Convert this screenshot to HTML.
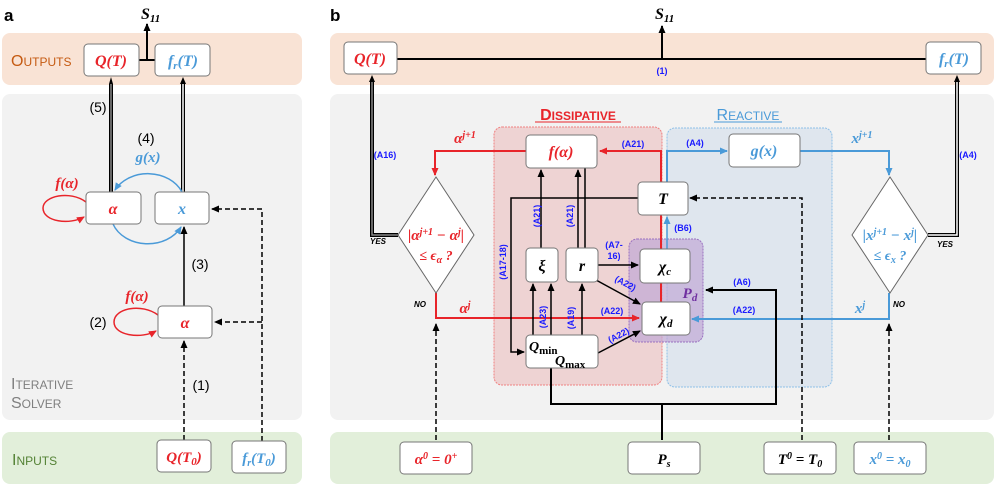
<!DOCTYPE html>
<html><head><meta charset="utf-8"><style>
html,body{margin:0;padding:0;background:#fff}
svg{display:block}
.m{font-family:"Liberation Serif",serif;font-style:italic;font-weight:bold}
.l{font-family:"Liberation Sans",sans-serif;font-weight:bold;font-size:9px;fill:#1a1aff}
.n{font-family:"Liberation Sans",sans-serif;font-size:14px;fill:#000}
.bx{fill:#fff;stroke:#777;stroke-width:1}
.sc{font-family:"Liberation Sans",sans-serif;font-size:16px}
.sc tspan{font-size:12px}
</style></head><body>
<svg width="996" height="494" viewBox="0 0 996 494" xmlns="http://www.w3.org/2000/svg">
<defs>
<marker id="ak" markerWidth="8" markerHeight="8" refX="7" refY="4" orient="auto" markerUnits="userSpaceOnUse"><path d="M0,0.5 L8,4 L0,7.5z" fill="#000"/></marker>
<marker id="ar" markerWidth="8" markerHeight="8" refX="7" refY="4" orient="auto" markerUnits="userSpaceOnUse"><path d="M0,0.5 L8,4 L0,7.5z" fill="#e8242a"/></marker>
<marker id="ab" markerWidth="8" markerHeight="8" refX="7" refY="4" orient="auto" markerUnits="userSpaceOnUse"><path d="M0,0.5 L8,4 L0,7.5z" fill="#4a9ad8"/></marker>
</defs>

<!-- ===== PANEL A ===== -->
<text x="4" y="21" font-family="Liberation Sans" font-weight="bold" font-size="17">a</text>
<rect x="2" y="33" width="300" height="52" rx="8" fill="#f9e3d5"/>
<rect x="2" y="94" width="300" height="326" rx="8" fill="#f2f2f2"/>
<rect x="2" y="432" width="300" height="52" rx="8" fill="#e2efda"/>
<text x="11" y="66" class="sc" fill="#c55a11">O<tspan>UTPUTS</tspan></text>
<text x="11" y="389" class="sc" fill="#7f7f7f">I<tspan>TERATIVE</tspan></text>
<text x="11" y="408" class="sc" fill="#7f7f7f">S<tspan>OLVER</tspan></text>
<text x="12" y="465" class="sc" fill="#548235">I<tspan>NPUTS</tspan></text>

<text x="141" y="19" class="m" font-size="16">S<tspan font-size="11" dy="3">11</tspan></text>
<line x1="147" y1="60" x2="147" y2="24" stroke="#000" stroke-width="2" marker-end="url(#ak)"/>
<line x1="139" y1="60" x2="155" y2="60" stroke="#000" stroke-width="2"/>

<line x1="111" y1="192" x2="111" y2="84" stroke="#000" stroke-width="4"/>
<line x1="111" y1="192" x2="111" y2="84" stroke="#888" stroke-width="1.5"/>
<path d="M109,84 L111,77 L113,84z" fill="#000"/>
<line x1="183" y1="192" x2="183" y2="84" stroke="#000" stroke-width="4"/>
<line x1="183" y1="192" x2="183" y2="84" stroke="#fff" stroke-width="1.5"/>
<path d="M180,84 L183,77 L186,84z" fill="#000"/>

<rect x="84" y="44" width="55" height="32" rx="4" class="bx"/>
<text x="111" y="66" class="m" font-size="16" fill="#e8242a" text-anchor="middle">Q(T)</text>
<rect x="155" y="44" width="55" height="32" rx="4" class="bx"/>
<text x="183" y="66" class="m" font-size="16" fill="#4a9ad8" text-anchor="middle">f<tspan font-size="11" dy="3">r</tspan><tspan dy="-3">(T)</tspan></text>

<text x="98" y="112" class="n" text-anchor="middle">(5)</text>
<text x="146" y="143" class="n" text-anchor="middle">(4)</text>
<text x="148" y="162" class="m" font-size="15" fill="#4a9ad8" text-anchor="middle">g(x)</text>

<path d="M182,192 A37,30 0 0 0 115,190" fill="none" stroke="#4a9ad8" stroke-width="1.5" marker-end="url(#ab)"/>
<path d="M113,224 A37,30 0 0 0 181,227" fill="none" stroke="#4a9ad8" stroke-width="1.5" marker-end="url(#ab)"/>
<text x="67" y="188" class="m" font-size="15" fill="#e8242a" text-anchor="middle">f(α)</text>
<path d="M86,202 C70,190 43,196 43,208 C43,222 70,225 84,217" fill="none" stroke="#e8242a" stroke-width="1.5" marker-end="url(#ar)"/>

<rect x="86" y="192" width="55" height="32" rx="4" class="bx"/>
<text x="113" y="214" class="m" font-size="16" fill="#e8242a" text-anchor="middle">α</text>
<rect x="155" y="192" width="54" height="32" rx="4" class="bx"/>
<text x="182" y="214" class="m" font-size="16" fill="#4a9ad8" text-anchor="middle">x</text>

<path d="M262,441 L262,209 L212,209" fill="none" stroke="#000" stroke-width="1.5" stroke-dasharray="5,3" marker-end="url(#ak)"/>
<path d="M262,322 L215,322" fill="none" stroke="#000" stroke-width="1.5" stroke-dasharray="5,3" marker-end="url(#ak)"/>
<path d="M184,440 L184,341" fill="none" stroke="#000" stroke-width="1.5" stroke-dasharray="5,3" marker-end="url(#ak)"/>
<line x1="184" y1="306" x2="184" y2="227" stroke="#000" stroke-width="1.5" marker-end="url(#ak)"/>
<text x="200" y="269" class="n" text-anchor="middle">(3)</text>
<text x="201" y="390" class="n" text-anchor="middle">(1)</text>
<text x="98" y="327" class="n" text-anchor="middle">(2)</text>
<text x="137" y="301" class="m" font-size="15" fill="#e8242a" text-anchor="middle">f(α)</text>
<path d="M158,315 C142,303 114,308 114,322 C114,336 142,339 156,331" fill="none" stroke="#e8242a" stroke-width="1.5" marker-end="url(#ar)"/>
<rect x="158" y="306" width="54" height="32" rx="4" class="bx"/>
<text x="185" y="328" class="m" font-size="16" fill="#e8242a" text-anchor="middle">α</text>

<rect x="157" y="440" width="54" height="32" rx="4" class="bx"/>
<text x="184" y="462" class="m" font-size="15" fill="#e8242a" text-anchor="middle">Q(T<tspan font-size="11" dy="3">0</tspan><tspan dy="-3">)</tspan></text>
<rect x="232" y="441" width="54" height="32" rx="4" class="bx"/>
<text x="259" y="463" class="m" font-size="15" fill="#4a9ad8" text-anchor="middle">f<tspan font-size="10" dy="3">r</tspan><tspan dy="-3">(T</tspan><tspan font-size="11" dy="3">0</tspan><tspan dy="-3">)</tspan></text>

<!-- ===== PANEL B ===== -->
<text x="330" y="21" font-family="Liberation Sans" font-weight="bold" font-size="17">b</text>
<rect x="330" y="33" width="664" height="52" rx="8" fill="#f9e3d5"/>
<rect x="330" y="94" width="664" height="326" rx="8" fill="#f2f2f2"/>
<rect x="330" y="432" width="664" height="52" rx="8" fill="#e2efda"/>

<text x="655" y="19" class="m" font-size="16">S<tspan font-size="11" dy="3">11</tspan></text>
<line x1="662" y1="59" x2="662" y2="26" stroke="#000" stroke-width="2" marker-end="url(#ak)"/>
<line x1="397" y1="59" x2="926" y2="59" stroke="#000" stroke-width="2"/>
<text x="662" y="74" class="l" text-anchor="middle">(1)</text>

<rect x="494" y="127" width="168" height="258" rx="8" fill="#eed3d3" stroke="#f08080" stroke-dasharray="2,1" stroke-width="1"/>
<rect x="667" y="128" width="165" height="259" rx="8" fill="#dfe6ee" stroke="#8ec0e8" stroke-dasharray="2,1" stroke-width="1"/>
<text x="578" y="120" class="sc" fill="#e8242a" text-anchor="middle" font-weight="bold">D<tspan>ISSIPATIVE</tspan></text>
<line x1="535" y1="122" x2="621" y2="122" stroke="#e8242a" stroke-width="1"/>
<text x="748" y="120" class="sc" fill="#4a9ad8" text-anchor="middle">R<tspan>EACTIVE</tspan></text>
<line x1="714" y1="122" x2="782" y2="122" stroke="#4a9ad8" stroke-width="1"/>

<path d="M398,235 L372,235 L372,82" fill="none" stroke="#000" stroke-width="4"/>
<path d="M398,235 L372,235 L372,82" fill="none" stroke="#888" stroke-width="1.5"/>
<path d="M369,82 L372,75 L375,82z" fill="#000"/>
<path d="M928,235 L957,235 L957,82" fill="none" stroke="#000" stroke-width="4"/>
<path d="M928,235 L957,235 L957,82" fill="none" stroke="#fff" stroke-width="1.5"/>
<path d="M954,82 L957,75 L960,82z" fill="#000"/>
<text x="385" y="158" class="l" text-anchor="middle">(A16)</text>
<text x="968" y="158" class="l" text-anchor="middle">(A4)</text>
<text x="370" y="244" font-family="Liberation Sans" font-style="italic" font-weight="bold" font-size="8">YES</text>
<text x="937" y="247" font-family="Liberation Sans" font-style="italic" font-weight="bold" font-size="8">YES</text>
<text x="414" y="307" font-family="Liberation Sans" font-style="italic" font-weight="bold" font-size="8">NO</text>
<text x="893" y="307" font-family="Liberation Sans" font-style="italic" font-weight="bold" font-size="8">NO</text>

<rect x="344" y="42" width="53" height="32" rx="4" class="bx"/>
<text x="370" y="64" class="m" font-size="16" fill="#e8242a" text-anchor="middle">Q(T)</text>
<rect x="926" y="42" width="55" height="32" rx="4" class="bx"/>
<text x="954" y="64" class="m" font-size="16" fill="#4a9ad8" text-anchor="middle">f<tspan font-size="11" dy="3">r</tspan><tspan dy="-3">(T)</tspan></text>

<rect x="629" y="239" width="74" height="103" rx="8" fill="#c0a8d6" fill-opacity="0.7" stroke="#9a70c0" stroke-dasharray="2,1"/>

<path d="M661,302 L661,151 L600,151" fill="none" stroke="#e8242a" stroke-width="2" marker-end="url(#ar)"/>
<text x="633" y="147" class="l" text-anchor="middle">(A21)</text>
<path d="M526,151 L435,151 L435,175" fill="none" stroke="#e8242a" stroke-width="2" marker-end="url(#ar)"/>
<text x="465" y="143" class="m" font-size="15" fill="#e8242a" text-anchor="middle">α<tspan font-size="10" dy="-5">j+1</tspan></text>
<path d="M436,293 L436,318 L639,318" fill="none" stroke="#e8242a" stroke-width="2" marker-end="url(#ar)"/>
<text x="465" y="313" class="m" font-size="15" fill="#e8242a" text-anchor="middle">α<tspan font-size="10" dy="-5">j</tspan></text>
<text x="612" y="314" class="l" text-anchor="middle">(A22)</text>
<path d="M436,440 L436,324" fill="none" stroke="#000" stroke-width="1.5" stroke-dasharray="5,3" marker-end="url(#ak)"/>

<path d="M667,182 L667,151 L727,151" fill="none" stroke="#4a9ad8" stroke-width="2" marker-end="url(#ab)"/>
<text x="695" y="146" class="l" text-anchor="middle">(A4)</text>
<path d="M667,249 L667,217" fill="none" stroke="#4a9ad8" stroke-width="1.5" marker-end="url(#ab)"/>
<text x="683" y="231" class="l" text-anchor="middle">(B6)</text>
<path d="M800,151 L889,151 L889,175" fill="none" stroke="#4a9ad8" stroke-width="2" marker-end="url(#ab)"/>
<text x="862" y="143" class="m" font-size="15" fill="#4a9ad8" text-anchor="middle">x<tspan font-size="10" dy="-5">j+1</tspan></text>
<path d="M889,293 L889,319 L692,319" fill="none" stroke="#4a9ad8" stroke-width="2" marker-end="url(#ab)"/>
<text x="860" y="313" class="m" font-size="15" fill="#4a9ad8" text-anchor="middle">x<tspan font-size="10" dy="-5">j</tspan></text>
<text x="744" y="313" class="l" text-anchor="middle">(A22)</text>
<path d="M889,440 L889,324" fill="none" stroke="#000" stroke-width="1.5" stroke-dasharray="5,3" marker-end="url(#ak)"/>

<path d="M802,440 L802,198 L690,198" fill="none" stroke="#000" stroke-width="1.5" stroke-dasharray="5,3" marker-end="url(#ak)"/>

<path d="M662,440 L662,404" fill="none" stroke="#000" stroke-width="2"/>
<path d="M551,368 L551,404 L776,404 L776,290 L706,290" fill="none" stroke="#000" stroke-width="2" marker-end="url(#ak)"/>
<text x="742" y="285" class="l" text-anchor="middle">(A6)</text>

<path d="M638,198 L511,198 L511,352 L524,352" fill="none" stroke="#000" stroke-width="1.5" marker-end="url(#ak)"/>
<text transform="translate(506,262) rotate(-90)" class="l" text-anchor="middle">(A17-18)</text>

<line x1="541" y1="248" x2="541" y2="170" stroke="#000" stroke-width="1.5" marker-end="url(#ak)"/>
<text transform="translate(540,216) rotate(-90)" class="l" text-anchor="middle">(A21)</text>
<line x1="578" y1="248" x2="578" y2="170" stroke="#000" stroke-width="1.5" marker-end="url(#ak)"/>
<line x1="585" y1="248" x2="585" y2="168" stroke="#000" stroke-width="1.5"/>
<text transform="translate(573,216) rotate(-90)" class="l" text-anchor="middle">(A21)</text>
<line x1="533" y1="335" x2="533" y2="284" stroke="#000" stroke-width="1.5" marker-end="url(#ak)"/>
<line x1="551" y1="335" x2="551" y2="284" stroke="#000" stroke-width="1.5" marker-end="url(#ak)"/>
<text transform="translate(546,317) rotate(-90)" class="l" text-anchor="middle">(A23)</text>
<line x1="582" y1="335" x2="582" y2="284" stroke="#000" stroke-width="1.5" marker-end="url(#ak)"/>
<text transform="translate(574,318) rotate(-90)" class="l" text-anchor="middle">(A19)</text>
<line x1="598" y1="265" x2="638" y2="265" stroke="#000" stroke-width="1.5" marker-end="url(#ak)"/>
<text x="614" y="248" class="l" text-anchor="middle">(A7-</text>
<text x="614" y="259" class="l" text-anchor="middle">16)</text>
<line x1="596" y1="280" x2="640" y2="304" stroke="#000" stroke-width="1.5" marker-end="url(#ak)"/>
<text transform="translate(624,286) rotate(28)" class="l" text-anchor="middle">(A22)</text>
<line x1="598" y1="353" x2="640" y2="331" stroke="#000" stroke-width="1.5" marker-end="url(#ak)"/>
<text transform="translate(620,338) rotate(-28)" class="l" text-anchor="middle">(A22)</text>

<rect x="526" y="135" width="71" height="33" rx="4" class="bx"/>
<text x="561" y="157" class="m" font-size="16" fill="#e8242a" text-anchor="middle">f(α)</text>
<rect x="729" y="134" width="71" height="33" rx="4" class="bx"/>
<text x="764" y="156" class="m" font-size="16" fill="#4a9ad8" text-anchor="middle">g(x)</text>
<rect x="638" y="182" width="50" height="33" rx="4" class="bx"/>
<text x="663" y="204" class="m" font-size="16" text-anchor="middle">T</text>
<rect x="526" y="248" width="32" height="34" rx="4" class="bx"/>
<text x="542" y="271" class="m" font-size="16" text-anchor="middle">ξ</text>
<rect x="566" y="248" width="32" height="34" rx="4" class="bx"/>
<text x="582" y="271" class="m" font-size="16" text-anchor="middle">r</text>
<rect x="640" y="249" width="50" height="34" rx="4" class="bx"/>
<text x="665" y="272" class="m" font-size="16" text-anchor="middle">χ<tspan font-size="11" dy="3">c</tspan></text>
<rect x="642" y="302" width="48" height="33" rx="4" class="bx"/>
<text x="666" y="324" class="m" font-size="16" text-anchor="middle">χ<tspan font-size="11" dy="3">d</tspan></text>
<text x="690" y="298" class="m" font-size="15" fill="#7030a0" text-anchor="middle">P<tspan font-size="11" dy="3">d</tspan></text>
<rect x="526" y="335" width="72" height="33" rx="4" class="bx"/>
<text x="529" y="351" class="m" font-size="14">Q<tspan font-size="11" dy="3" font-style="normal">min</tspan></text>
<text x="555" y="365" class="m" font-size="14">Q<tspan font-size="11" dy="3" font-style="normal">max</tspan></text>

<polygon points="436,177 474,235 436,293 398,235" fill="#fff" stroke="#666"/>
<text x="436" y="240" class="m" font-size="15" fill="#e8242a" text-anchor="middle">|α<tspan font-size="10" dy="-5">j+1</tspan><tspan dy="5"> − α</tspan><tspan font-size="10" dy="-5">j</tspan><tspan dy="5">|</tspan></text>
<text x="436" y="260" class="m" font-size="14" fill="#e8242a" text-anchor="middle">≤ ϵ<tspan font-size="10" dy="3">α</tspan><tspan dy="-3"> ?</tspan></text>
<polygon points="890,177 928,235 890,293 852,235" fill="#fff" stroke="#666"/>
<text x="890" y="240" class="m" font-size="15" fill="#4a9ad8" text-anchor="middle">|x<tspan font-size="10" dy="-5">j+1</tspan><tspan dy="5"> − x</tspan><tspan font-size="10" dy="-5">j</tspan><tspan dy="5">|</tspan></text>
<text x="890" y="260" class="m" font-size="14" fill="#4a9ad8" text-anchor="middle">≤ ϵ<tspan font-size="10" dy="3">x</tspan><tspan dy="-3"> ?</tspan></text>

<rect x="400" y="442" width="72" height="32" rx="4" class="bx"/>
<text x="436" y="464" class="m" font-size="15" fill="#e8242a" text-anchor="middle">α<tspan font-size="10" dy="-5">0</tspan><tspan dy="5"> = 0</tspan><tspan font-size="10" dy="-5">+</tspan></text>
<rect x="628" y="442" width="72" height="32" rx="4" class="bx"/>
<text x="664" y="464" class="m" font-size="15" text-anchor="middle">P<tspan font-size="10" dy="3">s</tspan></text>
<rect x="764" y="442" width="72" height="32" rx="4" class="bx"/>
<text x="800" y="464" class="m" font-size="15" text-anchor="middle">T<tspan font-size="10" dy="-5">0</tspan><tspan dy="5"> = T</tspan><tspan font-size="10" dy="3">0</tspan></text>
<rect x="854" y="442" width="72" height="32" rx="4" class="bx"/>
<text x="890" y="464" class="m" font-size="15" fill="#4a9ad8" text-anchor="middle">x<tspan font-size="10" dy="-5">0</tspan><tspan dy="5"> = x</tspan><tspan font-size="10" dy="3">0</tspan></text>
</svg>
</body></html>
